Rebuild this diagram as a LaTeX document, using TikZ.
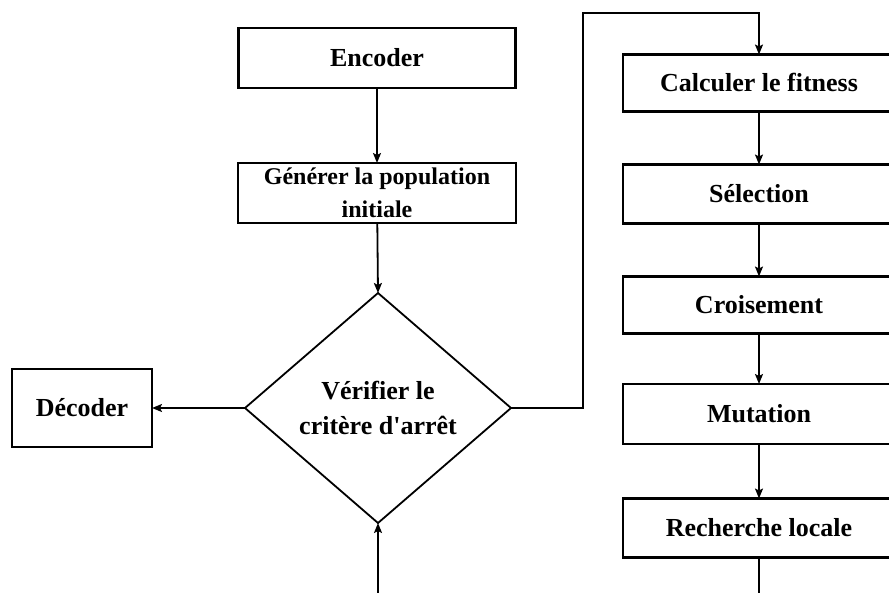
\documentclass[tikz,border=0pt]{standalone}
\usepackage{fontspec}
\setmainfont{Liberation Serif}[Ligatures=TeXOff]
\usetikzlibrary{shapes.geometric,arrows.meta}

\begin{document}
\begin{tikzpicture}[x=1pt,y=-1pt,
    etape/.style={draw,line width=2.2pt,inner sep=0pt,outer sep=0pt,align=center,
      font=\fontsize{26}{33}\selectfont\bfseries},
    test/.style={draw,diamond,line width=1.8pt,inner sep=0pt,outer sep=0pt,align=center,
      minimum width=266pt,minimum height=230pt,font=\fontsize{26}{35}\selectfont\bfseries},
    fleche/.style={line width=1.8pt,-{Stealth[length=10pt,width=8pt,inset=2pt]}}]
    \clip (0,0) rectangle (889,592);
    % colonne de gauche
    \node [etape,minimum width=277pt,minimum height=60pt] (enc) at (377,58) {Encoder};
    \node [etape,minimum width=278pt,minimum height=60pt,
      font=\fontsize{24}{33}\selectfont\bfseries] (gen) at (377,193) {Générer la population\\initiale};
    \node [test] (chk) at (378,408) {\rule{0pt}{14pt}Vérifier le\\critère d'arrêt};
    \node [etape,minimum width=140pt,minimum height=78pt] (dec) at (82,408) {Décoder};
    % colonne de droite
    \node [etape,minimum width=272pt,minimum height=57pt] (cal) at (759,83) {Calculer le fitness};
    \node [etape,minimum width=272pt,minimum height=59pt] (sel) at (759,194) {Sélection};
    \node [etape,minimum width=272pt,minimum height=57pt] (cro) at (759,305) {Croisement};
    \node [etape,minimum width=272pt,minimum height=60pt] (mut) at (759,414) {Mutation};
    \node [etape,minimum width=272pt,minimum height=59pt] (rech) at (759,528) {Recherche locale};
    \coordinate (haut) at (583,13);
    \coordinate (sortie) at (759,600);
    \coordinate (retour) at (378,600);
    % liaisons
    \draw [fleche] (enc) -- (gen);
    \draw [fleche] (gen) -- (chk.north);
    \draw [fleche] (chk.west) -- (dec);
    \draw [fleche] (chk.east) -| (haut) -| (cal.north);
    \draw [fleche] (cal) -- (sel);
    \draw [fleche] (sel) -- (cro);
    \draw [fleche] (cro) -- (mut);
    \draw [fleche] (mut) -- (rech);
    \draw [line width=1.8pt] (rech) -- (sortie);
    \draw [fleche] (retour) -- (chk.south);
\end{tikzpicture}
\end{document}
